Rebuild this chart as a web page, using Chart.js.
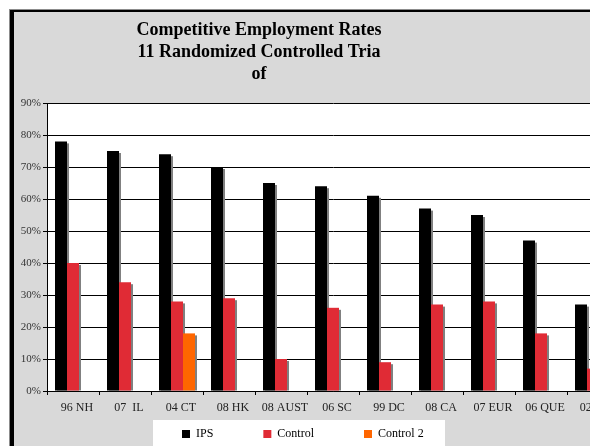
<!DOCTYPE html>
<html lang="en">
<head>
<meta charset="UTF-8">
<title>Competitive Employment Rates</title>
<script src="https://cdn.jsdelivr.net/npm/chart.js@4/dist/chart.umd.min.js"></script>
<style>
    html, body { margin: 0; padding: 0; width: 590px; height: 446px; overflow: hidden; background: #fff; }
    #frame {
        position: absolute; left: 10px; top: 10px;
        border-left: 4px solid #000; border-top: 2px solid #000;
        box-shadow: -1px -1px 0 #8c8c8c;
        background: #d9d9d9;
        width: 640px; height: 481px;
    }
    #frame canvas { display: block; }
</style>
</head>
<body>
<div id="frame"><canvas id="empChart" width="640" height="481"></canvas></div>
<script>
    const titleLines = ['Competitive Employment Rates', '11 Randomized Controlled Tria', 'of'];
    const studies = ['96 NH', '07  IL', '04 CT', '08 HK', '08 AUST', '06 SC', '99 DC', '08 CA', '07 EUR', '06 QUE', '02 MD'];
    const ipsRates = [78, 75, 74, 70, 65, 64, 61, 57, 55, 47, 27];
    const controlRates = [40, 34, 28, 29, 10, 26, 9, 27, 28, 18, 7];
    const control2Rates = [null, null, 18, null, null, null, null, null, null, null, null];
    const yTicks = [0, 10, 20, 30, 40, 50, 60, 70, 80, 90];

    Chart.defaults.font.family = "'Liberation Serif', 'Times New Roman', serif";
    Chart.defaults.animation = false;

    const legendPad = 50;

    // gray drop shadow behind every bar, plus white plot / legend panels
    const excelLook = {
        id: 'excelLook',
        afterLayout(chart) {
            chart.titleBlock.left = 0;
            chart.titleBlock.right = 490;
            chart.legend.left = 168 - legendPad;
            chart.legend.right = 640;
            chart.legend.top = 416 - legendPad;
        },
        beforeDraw(chart) {
            const { ctx, chartArea } = chart;
            ctx.save();
            ctx.fillStyle = '#fff';
            ctx.fillRect(chartArea.left, chartArea.top, chartArea.right - chartArea.left, chartArea.bottom - chartArea.top);
            ctx.fillRect(139, 408, 292, 100);
            ctx.restore();
        },
        beforeDatasetsDraw(chart) {
            const { ctx, chartArea } = chart;
            ctx.save();
            ctx.beginPath();
            ctx.rect(chartArea.left, chartArea.top, chartArea.right - chartArea.left, chartArea.bottom - chartArea.top);
            ctx.clip();
            ctx.fillStyle = '#808080';
            chart.data.datasets.forEach((ds, i) => {
                chart.getDatasetMeta(i).data.forEach(bar => {
                    const { x, y, base, width } = bar.getProps(['x', 'y', 'base', 'width'], true);
                    if (isNaN(y)) return;
                    ctx.fillRect(x - width / 2 + 2, y + 2, width, base - y - 2);
                });
            });
            ctx.restore();
        }
    };

    new Chart(document.getElementById('empChart'), {
        type: 'bar',
        data: {
            labels: studies,
            datasets: [
                { label: 'IPS', data: ipsRates, backgroundColor: '#000000', borderWidth: 0 },
                { label: 'Control', data: controlRates, backgroundColor: '#e02b35', borderWidth: 0 },
                { label: 'Control 2', data: control2Rates, backgroundColor: '#ff6600', borderWidth: 0 }
            ]
        },
        options: {
            responsive: false,
            maintainAspectRatio: false,
            categoryPercentage: 36 / 52,
            barPercentage: 1,
            layout: { padding: { left: 0, right: 35, top: 0, bottom: 0 } },
            plugins: {
                tooltip: { enabled: false },
                title: {
                    display: true,
                    text: titleLines,
                    color: '#000',
                    font: { size: 18, weight: 'bold', lineHeight: 1.2 },
                    padding: { top: 8, bottom: 18.2 }
                },
                legend: {
                    position: 'bottom',
                    align: 'start',
                    labels: {
                        boxWidth: 8,
                        boxHeight: 8,
                        padding: legendPad,
                        color: '#000',
                        font: { size: 12 }
                    }
                }
            },
            scales: {
                x: {
                    afterFit(scale) { scale.height = 30; },
                    grid: { offset: true, drawOnChartArea: false, drawTicks: true, tickLength: 4, color: '#000' },
                    border: { color: '#000', width: 1 },
                    ticks: { color: '#222', font: { size: 12 }, padding: 6, labelOffset: 4, maxRotation: 0, autoSkip: false }
                },
                y: {
                    min: 0,
                    max: 90,
                    afterFit(scale) { scale.width = 33; },
                    afterBuildTicks(scale) { scale.ticks = yTicks.map(v => ({ value: v })); },
                    grid: { color: '#000', lineWidth: 1, tickLength: 4 },
                    border: { color: '#000', width: 1 },
                    ticks: { color: '#333', font: { size: 11 }, padding: 2, callback: v => v + '%' }
                }
            }
        },
        plugins: [excelLook]
    });
</script>
</body>
</html>
